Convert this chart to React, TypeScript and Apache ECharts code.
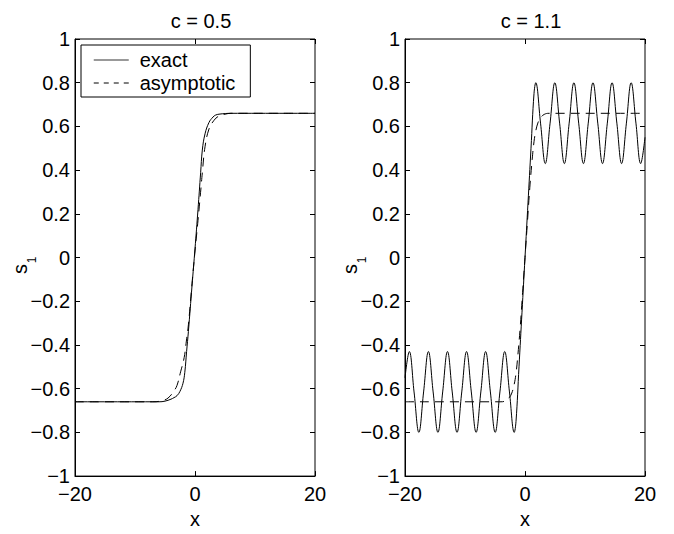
import React, { useEffect, useRef } from "react";
import * as echarts from "echarts";

// ---- data ----
// left panel: c = 0.5
const leftExactX = [-20, -6, -5, -4, -3.5, -3, -2.5, -2, -1.7, -1.4, -1.1, -0.5, 0, 0.5, 0.94, 1.22, 1.67, 2.33, 3.0, 3.44, 4.0, 5.1, 6, 20];
const leftExactY = [-0.66, -0.66, -0.657, -0.648, -0.641, -0.632, -0.612, -0.575, -0.525, -0.43, -0.338, -0.13, 0.04, 0.22, 0.388, 0.492, 0.566, 0.618, 0.643, 0.652, 0.656, 0.659, 0.66, 0.66];

const leftAsymX = [-20, -7, -5.5, -4.5, -3.5, -3.0, -2.4, -1.8, -1.44, -1.1, -0.5, 0, 0.5, 1.0, 1.22, 1.67, 2.33, 3.17, 4.0, 5.0, 6.0, 20];
const leftAsymY = [-0.66, -0.66, -0.655, -0.643, -0.61, -0.585, -0.523, -0.457, -0.382, -0.308, -0.12, 0.03, 0.17, 0.32, 0.388, 0.507, 0.588, 0.628, 0.648, 0.656, 0.66, 0.66];

// right panel: c = 1.1
const rightExactX = [-20, -19.28, -18.49, -17.69, -16.9, -16.1, -15.31, -14.51, -13.72, -12.92, -12.13, -11.33, -10.54, -9.74, -8.95, -8.15, -7.36, -6.56, -5.77, -4.97, -4.18, -3.38, -2.59, -1.79, -1.5, -1.0, -0.5, 0, 0.5, 1.0, 1.5, 1.79, 2.59, 3.38, 4.18, 4.97, 5.77, 6.56, 7.36, 8.15, 8.95, 9.74, 10.54, 11.33, 12.13, 12.92, 13.72, 14.51, 15.31, 16.1, 16.9, 17.69, 18.49, 19.28, 20];
const rightExactY = [-0.55, -0.43, -0.615, -0.8, -0.615, -0.43, -0.615, -0.8, -0.615, -0.43, -0.615, -0.8, -0.615, -0.43, -0.615, -0.8, -0.615, -0.43, -0.615, -0.8, -0.615, -0.43, -0.615, -0.8, -0.75, -0.5, -0.25, 0, 0.25, 0.5, 0.75, 0.8, 0.615, 0.43, 0.615, 0.8, 0.615, 0.43, 0.615, 0.8, 0.615, 0.43, 0.615, 0.8, 0.615, 0.43, 0.615, 0.8, 0.615, 0.43, 0.615, 0.8, 0.615, 0.43, 0.55];

const rightAsymX = [-20, -4, -3.2, -2.6, -2.2, -1.8, -1.5, -1.2, -0.8, -0.4, 0, 0.4, 0.8, 1.2, 1.5, 1.8, 2.2, 2.6, 3.2, 4, 20];
const rightAsymY = [-0.66, -0.66, -0.655, -0.64, -0.62, -0.58, -0.53, -0.45, -0.32, -0.16, 0, 0.16, 0.32, 0.45, 0.53, 0.58, 0.62, 0.64, 0.655, 0.66, 0.66];

const titles = ["c = 0.5", "c = 1.1"];
const seriesNames = ["exact", "asymptotic"];
const xTicks = { min: -20, max: 20, interval: 20 };
const yTicks = { min: -1, max: 1, interval: 0.2 };

const FONT = '"Liberation Sans", Arial, Helvetica, sans-serif';
const FS = 20;

const zip = (xs: number[], ys: number[]) => xs.map((x, i) => [x, ys[i]]);
const fmt = (v: number) => {
  const r = Math.round(v * 10) / 10;
  return String(r).replace("-", "\u2212");
};

export default function App() {
  const ref = useRef<HTMLDivElement>(null);
  useEffect(() => {
    if (!ref.current) return;
    const chart = echarts.init(ref.current, undefined, { renderer: "svg" });
    const grids = [
      { left: 75, top: 39, width: 240, height: 450 },
      { left: 405, top: 39, width: 240, height: 450 },
    ];
    const tick = { inside: true, length: 5, lineStyle: { color: "#000", width: 1 } };
    const xAxes: any[] = [];
    const yAxes: any[] = [];
    grids.forEach((_, g) => {
      xAxes.push({
        gridIndex: g, type: "value", ...xTicks, position: "bottom",
        axisLine: { show: true, onZero: false, lineStyle: { color: "#000", width: 1 } },
        axisTick: tick,
        axisLabel: { color: "#000", fontSize: FS, fontFamily: FONT, margin: 8, formatter: fmt },
        splitLine: { show: false },
        name: "x", nameLocation: "middle", nameGap: 26,
        nameTextStyle: { color: "#000", fontSize: FS, fontFamily: FONT },
      });
      xAxes.push({
        gridIndex: g, type: "value", ...xTicks, position: "top",
        axisLine: { show: false, onZero: false },
        axisTick: tick,
        axisLabel: { show: false }, splitLine: { show: false },
      });
      yAxes.push({
        gridIndex: g, type: "value", ...yTicks, position: "left",
        axisLine: { show: true, onZero: false, lineStyle: { color: "#000", width: 1 } },
        axisTick: tick,
        axisLabel: { color: "#000", fontSize: FS, fontFamily: FONT, margin: 5, formatter: fmt },
        splitLine: { show: false },
      });
      yAxes.push({
        gridIndex: g, type: "value", ...yTicks, position: "right",
        axisLine: { show: false, onZero: false },
        axisTick: tick,
        axisLabel: { show: false }, splitLine: { show: false },
      });
    });
    const mk = (name: string, data: number[][], axis: number, dashed: boolean) => ({
      type: "line", name, data, xAxisIndex: axis, yAxisIndex: axis,
      symbol: "none", smooth: 0.4,
      lineStyle: { color: "#000", width: 1, type: dashed ? [9, 6] : "solid" },
      itemStyle: { color: "#000" },
    });
    const subs = [75, 405];
    chart.setOption({
      animation: false,
      backgroundColor: "#fff",
      title: titles.map((t, i) => ({
        text: t, left: subs[i] + 121, top: 6, textAlign: "center",
        textStyle: { color: "#000", fontWeight: "normal", fontSize: FS, fontFamily: FONT },
      })),
      grid: grids.map((g) => ({ ...g, show: true, borderColor: "#000", borderWidth: 1, backgroundColor: "#fff" })),
      xAxis: xAxes,
      yAxis: yAxes,
      legend: {
        orient: "vertical", left: 81, top: 45,
        padding: [4, 15, 3, 12],
        itemWidth: 35, itemHeight: 14, itemGap: 1,
        borderColor: "#000", borderWidth: 1, backgroundColor: "#fff", borderRadius: 0,
        selectedMode: false,
        itemStyle: { opacity: 0 },
        textStyle: { color: "#000", fontSize: FS, fontFamily: FONT, lineHeight: 22, padding: [0, 0, 0, 6] },
        data: [
          { name: seriesNames[0], itemStyle: { opacity: 0 }, lineStyle: { color: "#777", width: 1.5, type: "solid" } },
          { name: seriesNames[1], itemStyle: { opacity: 0 }, lineStyle: { color: "#000", width: 1, type: [5, 5] } },
        ],
      },
      graphic: subs.flatMap((sx) => [
        { type: "text", x: sx - 55, y: 269, rotation: Math.PI / 2,
          style: { text: "s", font: `${FS}px ${FONT}`, fill: "#000", textAlign: "center", textVerticalAlign: "middle" } },
        { type: "text", x: sx - 43, y: 260, rotation: Math.PI / 2,
          style: { text: "1", font: `12px ${FONT}`, fill: "#000", textAlign: "center", textVerticalAlign: "middle" } },
      ]),
      series: [
        mk(seriesNames[0], zip(leftExactX, leftExactY), 0, false),
        mk(seriesNames[1], zip(leftAsymX, leftAsymY), 0, true),
        mk(seriesNames[0], zip(rightExactX, rightExactY), 2, false),
        mk(seriesNames[1], zip(rightAsymX, rightAsymY), 2, true),
      ],
    });
    return () => chart.dispose();
  }, []);
  return <div ref={ref} style={{ position: "fixed", left: 0, top: 0, width: 674, height: 534 }} />;
}
